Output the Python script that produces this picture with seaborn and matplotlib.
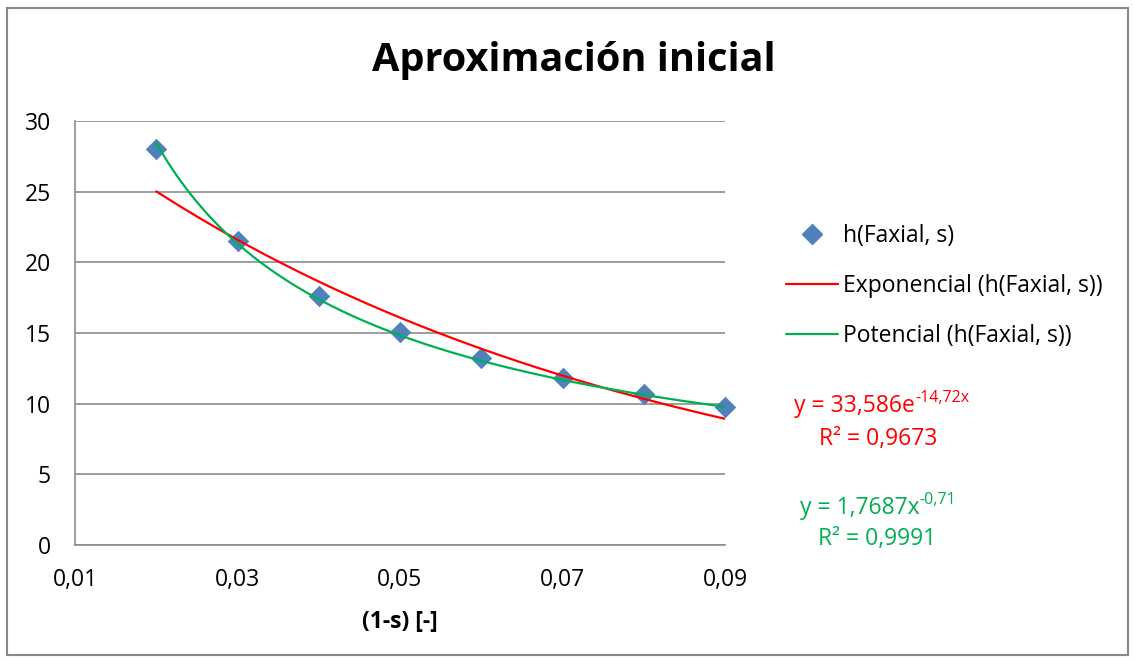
import numpy as np
import pandas as pd
import matplotlib
matplotlib.use("Agg")
import matplotlib.pyplot as plt
from matplotlib.patches import Rectangle
from matplotlib.lines import Line2D
import seaborn as sns

# Measured points
x_vals = [0.02, 0.03, 0.04, 0.05, 0.06, 0.07, 0.08, 0.09]
h_vals = [28.05, 21.5, 17.6, 15.05, 13.2, 11.8, 10.65, 9.75]

# Trendline coefficients
exp_a, exp_b, exp_r2 = 33.586, -14.72, 0.9673
pow_a, pow_b, pow_r2 = 1.7687, -0.71, 0.9991

x_ticks = [0.01, 0.03, 0.05, 0.07, 0.09]
y_ticks = [0, 5, 10, 15, 20, 25, 30]

title = "Aproximación inicial"
xlabel = "(1-s) [-]"
series_label = "h(Faxial, s)"
exp_label = "Exponencial (h(Faxial, s))"
pow_label = "Potencial (h(Faxial, s))"

BLUE = "#4F81BD"
RED = "#FF0000"
GREEN = "#00B050"
GRID = "#8C8C8C"
FONT = "Open Sans"
FS = 16.5

sns.set_theme(style="white")
plt.rcParams["font.family"] = [FONT, "DejaVu Sans"]
plt.rcParams["text.color"] = "black"

fig = plt.figure(figsize=(11.34, 6.61), dpi=100)
fig.patch.set_facecolor("white")
fig.patches.append(Rectangle((7 / 1134, 1 - 655 / 661), 1121 / 1134, 647 / 661,
                             transform=fig.transFigure, fill=False,
                             edgecolor="#898989", linewidth=1.5))

ax = fig.add_axes([75 / 1134, 1 - 545 / 661, 650 / 1134, 424 / 661])

df = pd.DataFrame({"x": x_vals, "h": h_vals})
xs = np.linspace(x_vals[0], x_vals[-1], 200)
trend = pd.DataFrame({
    "x": xs,
    "exp": exp_a * np.exp(exp_b * xs),
    "pow": pow_a * xs ** pow_b,
})

sns.scatterplot(data=df, x="x", y="h", ax=ax, marker="D", s=120, color=BLUE,
                edgecolor=BLUE, linewidth=0, zorder=3, legend=False,
                clip_on=False)
sns.lineplot(data=trend, x="x", y="exp", ax=ax, color=RED, linewidth=1.6,
             zorder=4, legend=False)
sns.lineplot(data=trend, x="x", y="pow", ax=ax, color=GREEN, linewidth=1.6,
             zorder=5, legend=False)

ax.set_xlim(0.01, 0.09)
ax.set_ylim(0, 30)
ax.set_xticks(x_ticks)
ax.set_yticks(y_ticks)
ax.set_xticklabels([f"{v:.2f}".replace(".", ",") for v in x_ticks])
ax.set_yticklabels([str(v) for v in y_ticks])
ax.tick_params(axis="both", labelsize=FS, labelcolor="black", length=5.5,
               width=1.2, direction="out", color=GRID)
ax.tick_params(axis="x", pad=11)
ax.tick_params(axis="y", pad=12)
ax.yaxis.grid(True, color=GRID, linewidth=1.2)
ax.xaxis.grid(False)
ax.set_axisbelow(True)
for side in ["top", "right"]:
    ax.spines[side].set_visible(False)
for side in ["left", "bottom"]:
    ax.spines[side].set_color(GRID)
    ax.spines[side].set_linewidth(1.2)
ax.set_xlabel(xlabel, fontsize=FS, fontweight="bold", labelpad=13,
              color="black")
ax.set_ylabel("")

fig.text(574 / 1134, 1 - 60 / 661, title, ha="center", va="center",
         fontsize=28.5, fontweight="bold", color="black")

handles = [
    Line2D([], [], linestyle="none", marker="D", markersize=10, color=BLUE),
    Line2D([], [], color=RED, linewidth=1.6),
    Line2D([], [], color=GREEN, linewidth=1.6),
]
ax.legend(handles, [series_label, exp_label, pow_label], loc="center left",
          bbox_to_anchor=(786 / 1134, 1 - 286 / 661),
          bbox_transform=fig.transFigure, frameon=False, fontsize=FS,
          borderpad=0, borderaxespad=0, handlelength=2.25, handletextpad=0.22,
          labelspacing=1.14)


def equation(x_px, y_px, base, sup, color):
    t = fig.text(x_px / 1134, 1 - y_px / 661, base, ha="left",
                 va="baseline", fontsize=FS, color=color)
    fig.canvas.draw()
    bb = t.get_window_extent()
    fig.text(bb.x1 / fig.bbox.width, (1 - y_px / 661) + 10 / 661, sup,
             ha="left", va="baseline", fontsize=11.5, color=color)


def fmt(v, nd):
    return f"{v:.{nd}f}".replace(".", ",")


equation(794, 412, "y = " + fmt(exp_a, 3) + "e", fmt(exp_b, 2) + "x", RED)
fig.text(878 / 1134, 1 - 445 / 661, "R² = " + fmt(exp_r2, 4), ha="center",
         va="baseline", fontsize=FS, color=RED)
equation(800, 514, "y = " + fmt(pow_a, 4) + "x", fmt(pow_b, 2), GREEN)
fig.text(877 / 1134, 1 - 545 / 661, "R² = " + fmt(pow_r2, 4), ha="center",
         va="baseline", fontsize=FS, color=GREEN)

fig.savefig("out.png", dpi=100, facecolor="white")
